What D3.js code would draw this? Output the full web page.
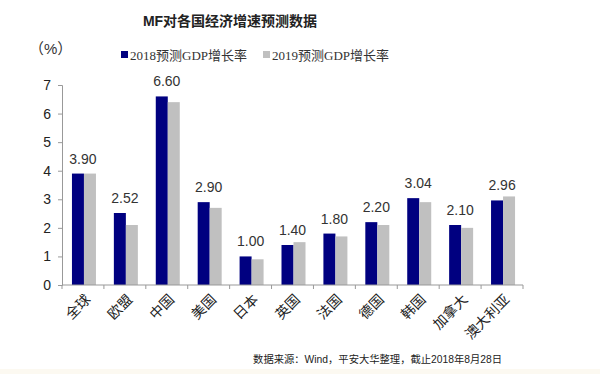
<!DOCTYPE html>
<html lang="zh">
<head>
<meta charset="utf-8">
<title>IMF对各国经济增速预测数据</title>
<script src="https://d3js.org/d3.v7.min.js"></script>
<style>
  body { margin: 0; background: #fff; }
  svg text { font-family: Arial, "Liberation Sans", "Noto Sans CJK SC", sans-serif; }
</style>
</head>
<body>
<script>
// data
var countries = ["全球", "欧盟", "中国", "美国", "日本", "英国", "法国", "德国", "韩国", "加拿大", "澳大利亚"];
var gdp2018 = [3.90, 2.52, 6.60, 2.90, 1.00, 1.40, 1.80, 2.20, 3.04, 2.10, 2.96];
var gdp2019 = [3.9, 2.1, 6.4, 2.7, 0.9, 1.5, 1.7, 2.1, 2.9, 2.0, 3.1];
var yTicks = [0, 1, 2, 3, 4, 5, 6, 7];
var seriesNames = ["2018预测GDP增长率", "2019预测GDP增长率"];
var colors = ["#000080", "#c0c0c0"];

var width = 600, height = 374;
var margin = {left: 62, right: 77, top: 85, bottom: 89};

var svg = d3.select("body").append("svg")
    .attr("width", width)
    .attr("height", height);

// faint strip at very bottom
svg.append("rect").attr("x", 0).attr("y", 369).attr("width", width).attr("height", 5).attr("fill", "#fcf9f1");

var x = d3.scaleBand()
    .domain(countries)
    .range([margin.left, width - margin.right]);

var x1 = d3.scaleBand()
    .domain([0, 1])
    .range([0, 24]);

var y = d3.scaleLinear()
    .domain([0, 7])
    .range([height - margin.bottom, margin.top]);

// title
svg.append("text")
    .attr("x", 230).attr("y", 26)
    .attr("text-anchor", "middle")
    .attr("font-size", 14).attr("font-weight", "bold")
    .attr("fill", "#222")
    .text("MF对各国经济增速预测数据");

svg.append("text")
    .attr("x", 29).attr("y", 54)
    .attr("font-size", 15).attr("fill", "#333")
    .text("（%）");

// legend
var legend = svg.selectAll(".legend")
    .data(seriesNames)
    .enter().append("g")
    .attr("transform", function(d, i) { return "translate(" + (121 + i * 142) + ",0)"; });
legend.append("rect")
    .attr("x", 0).attr("y", 51).attr("width", 7).attr("height", 7)
    .attr("fill", function(d, i) { return colors[i]; });
legend.append("text")
    .attr("x", 9).attr("y", 60)
    .attr("font-size", 13).attr("fill", "#333")
    .style("font-family", "'Liberation Serif', 'Noto Sans CJK SC', serif")
    .text(function(d) { return d; });

// bars
var groups = svg.selectAll(".grp")
    .data(countries)
    .enter().append("g")
    .attr("transform", function(d) { return "translate(" + (x(d) + x.bandwidth() / 2 - 11) + ",0)"; });

groups.append("rect")
    .attr("x", x1(0)).attr("width", x1.bandwidth())
    .attr("y", function(d, i) { return y(gdp2018[i]); })
    .attr("height", function(d, i) { return y(0) - y(gdp2018[i]); })
    .attr("fill", colors[0]);

groups.append("rect")
    .attr("x", x1(1)).attr("width", x1.bandwidth())
    .attr("y", function(d, i) { return y(gdp2019[i]); })
    .attr("height", function(d, i) { return y(0) - y(gdp2019[i]); })
    .attr("fill", colors[1]);

groups.append("text")
    .attr("x", 11)
    .attr("y", function(d, i) { return y(gdp2018[i]) - 10; })
    .attr("text-anchor", "middle")
    .attr("font-size", 14).attr("fill", "#333")
    .text(function(d, i) { return gdp2018[i].toFixed(2); });

// y axis
var yAxis = svg.append("g")
    .attr("transform", "translate(" + margin.left + ",0)")
    .call(d3.axisLeft(y).tickValues(yTicks).tickFormat(d3.format("d")).tickSize(4).tickPadding(7));
yAxis.selectAll("text").attr("font-size", 14).attr("fill", "#222")
    .style("font-family", "Arial, 'Liberation Sans', sans-serif");

// x axis
var xAxis = svg.append("g")
    .attr("transform", "translate(0," + y(0) + ")")
    .call(d3.axisBottom(x).tickSize(0).tickFormat(""));
xAxis.selectAll(".domain").remove();
xAxis.append("path")
    .attr("d", "M" + margin.left + ",0H" + (width - margin.right))
    .attr("stroke", "#999");
xAxis.selectAll(".bound")
    .data(countries.concat([null]))
    .enter().append("line")
    .attr("x1", function(d, i) { return margin.left + i * x.bandwidth(); })
    .attr("x2", function(d, i) { return margin.left + i * x.bandwidth(); })
    .attr("y1", 0).attr("y2", 4)
    .attr("stroke", "#999");

xAxis.selectAll(".lbl")
    .data(countries)
    .enter().append("text")
    .attr("transform", function(d) {
        return "translate(" + (x(d) + x.bandwidth() / 2 + 5) + ",12) rotate(-45)";
    })
    .attr("text-anchor", "end")
    .attr("dy", "0.35em")
    .attr("font-size", 14).attr("fill", "#222")
    .text(function(d) { return d; });

svg.selectAll(".domain, .tick line").attr("stroke", "#999");

// source note
svg.append("text")
    .attr("x", 502).attr("y", 363)
    .attr("text-anchor", "end")
    .attr("font-size", 10.3).attr("fill", "#222")
    .text("数据来源：Wind，平安大华整理，截止2018年8月28日");
</script>
</body>
</html>
